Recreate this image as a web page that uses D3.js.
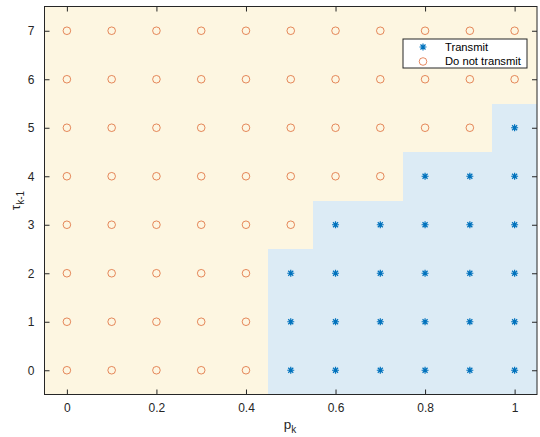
<!DOCTYPE html>
<html>
<head>
<meta charset="utf-8">
<script src="https://cdn.jsdelivr.net/npm/d3@7"></script>
<style>
  body { margin: 0; background: #fff; }
  svg { display: block; font-family: "Liberation Sans", Arial, sans-serif; }
  .tick text { fill: #262626; font-size: 12px; }
  .tick line { stroke: #262626; }
</style>
</head>
<body>
<svg width="540" height="437"></svg>
<script>
// data
var pValues = [0, 0.1, 0.2, 0.3, 0.4, 0.5, 0.6, 0.7, 0.8, 0.9, 1];
var tauValues = [0, 1, 2, 3, 4, 5, 6, 7];
// highest tau_{k-1} that still transmits, for each p_k (-1 = never)
var transmitUpTo = [-1, -1, -1, -1, -1, 2, 3, 3, 4, 4, 5];
var xTicks = [0, 0.2, 0.4, 0.6, 0.8, 1];
var yTicks = [0, 1, 2, 3, 4, 5, 6, 7];
var legendLabels = ['Transmit', 'Do not transmit'];

var blue = '#0072bd', orange = '#d95319';

var svg = d3.select('svg');
var plotL = 44.5, plotR = 537, plotT = 6.5, plotB = 394.5;

var xScale = d3.scaleLinear().domain([-0.05, 1.05]).range([plotL, plotR]);
var yScale = d3.scaleLinear().domain([-0.5, 7.5]).range([plotB, plotT]);

// background regions
svg.append('rect')
    .attr('x', plotL).attr('y', plotT)
    .attr('width', plotR - plotL).attr('height', plotB - plotT)
    .attr('fill', '#fdf6e1');

svg.append('g')
    .selectAll('rect')
    .data(pValues)
    .enter()
    .append('rect')
    .attr('shape-rendering', 'crispEdges')
    .attr('x', function(d) { return xScale(d - 0.05); })
    .attr('width', function(d) { return xScale(d + 0.05) - xScale(d - 0.05); })
    .attr('y', function(d, i) { return yScale(transmitUpTo[i] + 0.5); })
    .attr('height', function(d, i) { return yScale(-0.5) - yScale(transmitUpTo[i] + 0.5); })
    .attr('fill', '#dcebf5');

// points
var points = [];
pValues.forEach(function(p, i) {
    tauValues.forEach(function(t) {
        points.push({ p: p, t: t, send: t <= transmitUpTo[i] });
    });
});

function asterisk(g, size) {
    var s = size / 2, d = s * 0.72;
    g.append('path')
        .attr('d', 'M' + (-s) + ',0H' + s + 'M0,' + (-s) + 'V' + s +
            'M' + (-d) + ',' + (-d) + 'L' + d + ',' + d +
            'M' + (-d) + ',' + d + 'L' + d + ',' + (-d))
        .attr('stroke', blue).attr('stroke-width', 1.2).attr('fill', 'none');
}

var marks = svg.append('g')
    .selectAll('g')
    .data(points)
    .enter()
    .append('g')
    .attr('transform', function(d) { return 'translate(' + xScale(d.p) + ',' + yScale(d.t) + ')'; });

marks.filter(function(d) { return d.send; }).each(function() { asterisk(d3.select(this), 7); });
marks.filter(function(d) { return !d.send; })
    .append('circle')
    .attr('r', 3.8)
    .attr('fill', 'none')
    .attr('stroke', orange)
    .attr('stroke-opacity', 0.85)
    .attr('stroke-width', 0.8);

// axes, ticks pointing inward on all four sides
svg.append('g').attr('class', 'x axis')
    .attr('transform', 'translate(0,' + plotB + ')')
    .call(d3.axisBottom(xScale).tickValues(xTicks).tickSizeInner(-5).tickSizeOuter(0).tickPadding(9)
        .tickFormat(function(d) { return d; }));
svg.append('g')
    .attr('transform', 'translate(0,' + plotT + ')')
    .call(d3.axisTop(xScale).tickValues(xTicks).tickSizeInner(-5).tickSizeOuter(0).tickFormat(''));
svg.append('g').attr('class', 'y axis')
    .attr('transform', 'translate(' + plotL + ',0)')
    .call(d3.axisLeft(yScale).tickValues(yTicks).tickSizeInner(-5).tickSizeOuter(0).tickPadding(10));
svg.append('g')
    .attr('transform', 'translate(' + plotR + ',0)')
    .call(d3.axisRight(yScale).tickValues(yTicks).tickSizeInner(-5).tickSizeOuter(0).tickFormat(''));
svg.selectAll('.domain').remove();

svg.append('rect')
    .attr('x', plotL).attr('y', plotT)
    .attr('width', plotR - plotL).attr('height', plotB - plotT)
    .attr('fill', 'none').attr('stroke', '#262626').attr('stroke-width', 1);

// labels
var xl = svg.append('text')
    .attr('x', 290).attr('y', 429)
    .attr('text-anchor', 'middle')
    .attr('fill', '#262626').style('font-size', '13.5px');
xl.append('tspan').text('p');
xl.append('tspan').attr('dy', 4).style('font-size', '10px').text('k');

var yl = svg.append('text')
    .attr('transform', 'translate(20,' + yScale(3.5) + ') rotate(-90)')
    .attr('text-anchor', 'middle')
    .attr('fill', '#262626').style('font-size', '13.5px');
yl.append('tspan').text('\u03c4');
yl.append('tspan').attr('dy', 4).style('font-size', '10px').text('k-1');

// legend
var legend = svg.append('g').attr('transform', 'translate(403,39)');
legend.append('rect')
    .attr('width', 124).attr('height', 29)
    .attr('fill', '#fff').attr('stroke', '#262626').attr('stroke-width', 1);
var rows = legend.selectAll('g.row')
    .data(legendLabels)
    .enter()
    .append('g')
    .attr('class', 'row')
    .attr('transform', function(d, i) { return 'translate(20,' + (8 + i * 14.5) + ')'; });
rows.each(function(d, i) {
    var g = d3.select(this);
    if (i === 0) asterisk(g, 7);
    else g.append('circle').attr('r', 3.8).attr('fill', 'none')
        .attr('stroke', orange).attr('stroke-opacity', 0.85).attr('stroke-width', 0.8);
});
rows.append('text')
    .attr('x', 22).attr('dy', '0.35em')
    .attr('fill', '#000').style('font-size', '11.2px')
    .text(function(d) { return d; });
</script>
</body>
</html>
